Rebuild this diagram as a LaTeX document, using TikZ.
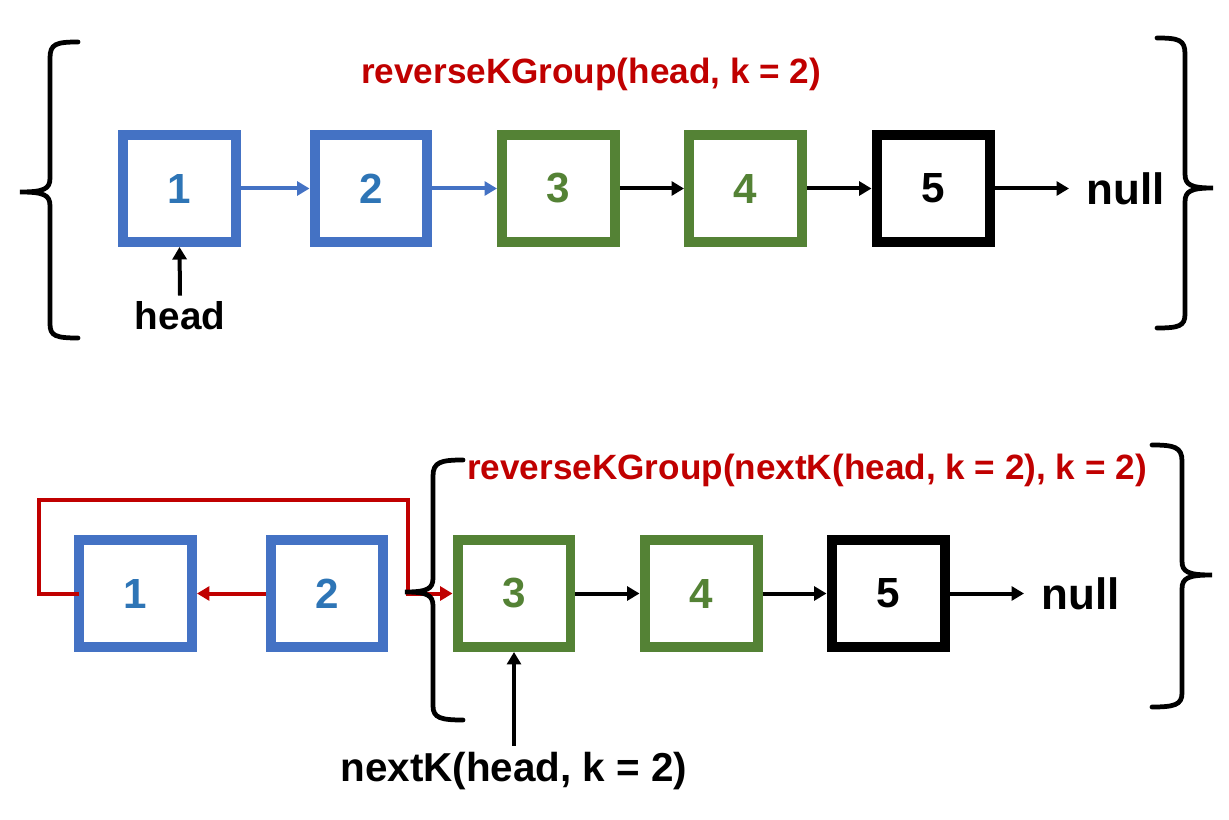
\documentclass[tikz,border=0pt]{standalone}
\usepackage{fontspec}
\setmainfont{Liberation Sans}
\usepackage{tikz}
\usetikzlibrary{arrows,arrows.meta}
\definecolor{boxblue}{HTML}{4472C4}
\definecolor{numblue}{HTML}{2E75B6}
\definecolor{boxgreen}{HTML}{548235}
\definecolor{darkred}{HTML}{C00000}

\begin{document}
\begin{tikzpicture}[x=0.02cm,y=-0.02cm,
	listnode/.style={draw,line width=0.2cm,minimum width=2.26cm,minimum height=2.14cm,inner sep=0pt,font=\fontsize{24}{28}\selectfont\bfseries},
	bluenode/.style={listnode,draw=boxblue,text=numblue},
	greennode/.style={listnode,draw=boxgreen,text=boxgreen},
	blacknode/.style={listnode,draw=black},
	link/.style={line width=0.08cm,-{Triangle[length=0.25cm,width=0.28cm]}},
	brace/.style={line width=0.095cm,line cap=round},
	textlabel/.style={font=\fontsize{22}{26}\selectfont\bfseries},
	nulllabel/.style={font=\fontsize{25}{29}\selectfont\bfseries,inner xsep=0.35cm,anchor=west},
	calltitle/.style={font=\fontsize{20}{24}\selectfont\bfseries,text=darkred}]
	\useasboundingbox (0,0) rectangle (1229,820);
	
	%top list
	\node[bluenode] (t1) at (179.5,188.5) {1};
	\node[bluenode] (t2) at (371,188.5) {2};
	\node[greennode] (t3) at (558.5,188.5) {3};
	\node[greennode] (t4) at (745.5,188.5) {4};
	\node[blacknode] (t5) at (933,188.5) {5};
	\node[nulllabel] (tnull) at (1069,188.5) {null};
	%
	\draw[link,boxblue] (t1.east) -- (t2.west);
	\draw[link,boxblue] (t2.east) -- (t3.west);
	\draw[link] (t3.east) -- (t4.west);
	\draw[link] (t4.east) -- (t5.west);
	\draw[link] (t5.east) -- (tnull.west);
	%
	\node[textlabel] (head) at (180,316) {head};
	\draw[link] (head.north) -- (t1.south);
	\node[calltitle] (ttitle) at (591,74) {reverseKGroup(head, k = 2)};
	
	%bottom list
	\node[bluenode] (b1) at (135.5,593.5) {1};
	\node[bluenode] (b2) at (327,593.5) {2};
	\node[greennode] (b3) at (514,593.5) {3};
	\node[greennode] (b4) at (701,593.5) {4};
	\node[blacknode] (b5) at (888,593.5) {5};
	\node[nulllabel] (bnull) at (1024,593.5) {null};
	%
	\coordinate (loopbend) at (408,500);
	\draw[link,darkred] (b2.west) -- (b1.east);
	\draw[link,darkred,shorten <=-0.1cm] (b1.west) -- ++(-35,0) |- (loopbend) |- (b3.west);
	\draw[link] (b3.east) -- (b4.west);
	\draw[link] (b4.east) -- (b5.west);
	\draw[link] (b5.east) -- (bnull.west);
	%
	\node[textlabel,font=\fontsize{23}{27}\selectfont\bfseries] (nextk) at (514,771) {nextK(head, k = 2)};
	\draw[link] (nextk.north) -- (b3.south);
	\node[calltitle] (btitle) at (807,470) {reverseKGroup(nextK(head, k = 2), k = 2)};
	
	%braces
	\draw[brace] (78,42) .. controls (56,42) and (50,44) .. (50,58) -- (50,178) .. controls (50,189) and (44,192) .. (20,192) .. controls (44,192) and (50,195) .. (50,206) -- (50,324) .. controls (50,336) and (56,338) .. (78,338);
	\draw[brace] (1157,38) .. controls (1179,38) and (1185,40) .. (1185,54) -- (1185,174) .. controls (1185,185) and (1191,188) .. (1213,188) .. controls (1191,188) and (1185,191) .. (1185,202) -- (1185,314) .. controls (1185,326) and (1179,328) .. (1157,328);
	\draw[brace] (463,460) .. controls (441,460) and (433,462) .. (433,476) -- (433,578) .. controls (433,589) and (427,592) .. (405,592) .. controls (427,592) and (433,595) .. (433,606) -- (433,706) .. controls (433,718) and (441,720) .. (463,720);
	\draw[brace] (1152,445) .. controls (1174,445) and (1182,447) .. (1182,461) -- (1182,561) .. controls (1182,572) and (1188,575) .. (1212,575) .. controls (1188,575) and (1182,578) .. (1182,589) -- (1182,693) .. controls (1182,705) and (1174,707) .. (1152,707);
\end{tikzpicture}
\end{document}
